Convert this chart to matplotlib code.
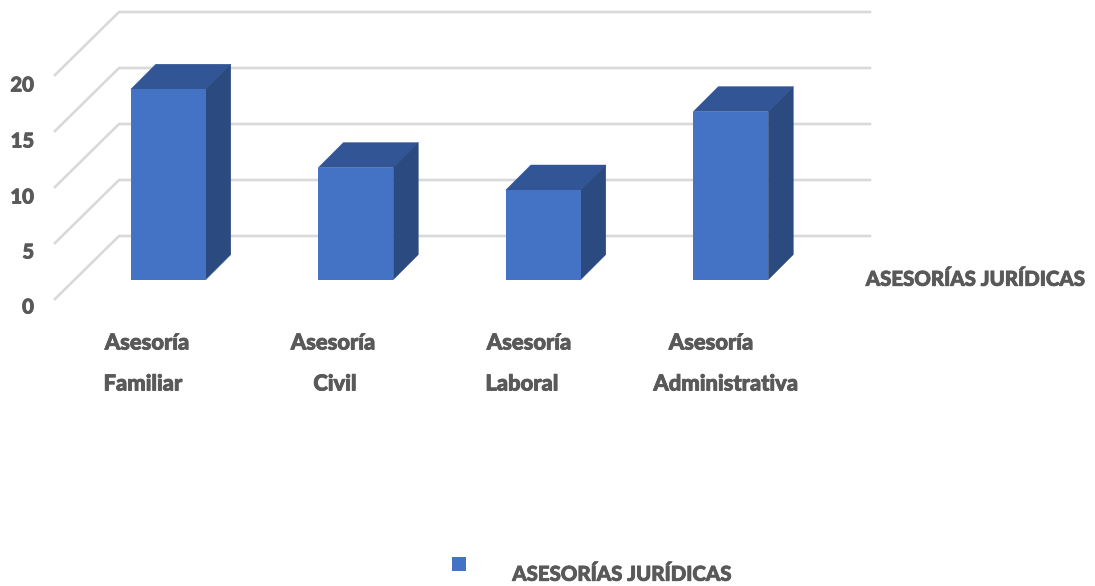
import matplotlib
matplotlib.use("Agg")
import matplotlib.pyplot as plt
import matplotlib.patheffects as pe
from matplotlib.patches import Polygon, Rectangle

CATEGORIES = ["Asesoría\nFamiliar", "Asesoría\nCivil", "Asesoría\nLaboral", "Asesoría\nAdministrativa"]
VALUES = [17, 10, 8, 15]
TICKS = [0, 5, 10, 15, 20]
TICK_LABELS = ["0", "5", "10", "15", "20"]
SERIES_NAME = "ASESORÍAS JURÍDICAS"

WIDTH = 1095
HEIGHT = 586
BAR_BLUE = "#4472C4"
BAR_TOP = "#325595"
BAR_SIDE = "#2A4A80"
GRID = "#D9D9D9"
TEXT = "#595959"
FONT = "Lato"

# layout of the fake 3d box, in pixels
PX_PER_CAT = 187.5
PX_PER_UNIT = 11.2
FIRST_CAT = 168.3
BASE_Y = 279.6
BAR_W = 0.4


def label(x, y, text, size=14.7, ha="center"):
    # lato bold is a bit thin next to the original, thicken with a stroke
    plt.figtext(x / WIDTH, 1 - y / HEIGHT, text, fontsize=size, color=TEXT, family=FONT,
                fontweight="black", ha=ha, va="center",
                path_effects=[pe.withStroke(linewidth=0.6, foreground=TEXT)])


def main():
    fig = plt.figure(figsize=(WIDTH / 100, HEIGHT / 100), dpi=100, facecolor="white")
    ax = fig.add_axes([0, 0, 1, 1])
    ax.set_xlim(-FIRST_CAT / PX_PER_CAT, (WIDTH - FIRST_CAT) / PX_PER_CAT)
    ax.set_ylim((BASE_Y - HEIGHT) / PX_PER_UNIT, BASE_Y / PX_PER_UNIT)
    ax.axis("off")

    # depth of box and bars in data units
    wall_dx = 64 / PX_PER_CAT
    wall_dy = 63 / PX_PER_UNIT
    bar_dx = 25 / PX_PER_CAT
    bar_dy = 25 / PX_PER_UNIT
    front_x = (55 - FIRST_CAT) / PX_PER_CAT
    right_x = (870 - FIRST_CAT) / PX_PER_CAT
    front_off = (BASE_Y - 299) / PX_PER_UNIT

    for t in TICKS:
        y0 = t + front_off
        ax.plot([front_x, front_x + wall_dx, right_x], [y0, y0 + wall_dy, y0 + wall_dy],
                color=GRID, lw=1.9, solid_joinstyle="miter", zorder=1)

    xs = list(range(len(VALUES)))
    ax.bar(xs, VALUES, width=BAR_W, color=BAR_BLUE, zorder=3)
    for x, v in zip(xs, VALUES):
        left = x - BAR_W / 2
        right = x + BAR_W / 2
        top = [(left, v), (right, v), (right + bar_dx, v + bar_dy), (left + bar_dx, v + bar_dy)]
        side = [(right, 0), (right + bar_dx, bar_dy), (right + bar_dx, v + bar_dy), (right, v)]
        ax.add_patch(Polygon(top, closed=True, facecolor=BAR_TOP, edgecolor=BAR_TOP, lw=0.3, zorder=2))
        ax.add_patch(Polygon(side, closed=True, facecolor=BAR_SIDE, edgecolor=BAR_SIDE, lw=0.3, zorder=2))

    # y tick labels
    for text, y in zip(TICK_LABELS, [307, 252, 197, 141, 85]):
        label(34, y, text, size=14.6, ha="right")

    # category labels are placed by hand, the original ones are not lined up
    label_pos = [(147, 143), (333, 335), (529, 522), (711, 726)]
    for cat, (x1, x2) in zip(CATEGORIES, label_pos):
        first, second = cat.split("\n")
        label(x1, 343, first, size=15.8)
        label(x2, 384, second, size=15.8)

    label(975, 279, SERIES_NAME)

    # legend
    fig.add_artist(Rectangle((452 / WIDTH, 1 - 571 / HEIGHT), 14 / WIDTH, 14 / HEIGHT,
                             transform=fig.transFigure, facecolor=BAR_BLUE, edgecolor="none"))
    label(621.5, 574, SERIES_NAME)

    fig.savefig("out.png", dpi=100)


if __name__ == '__main__':
    main()
